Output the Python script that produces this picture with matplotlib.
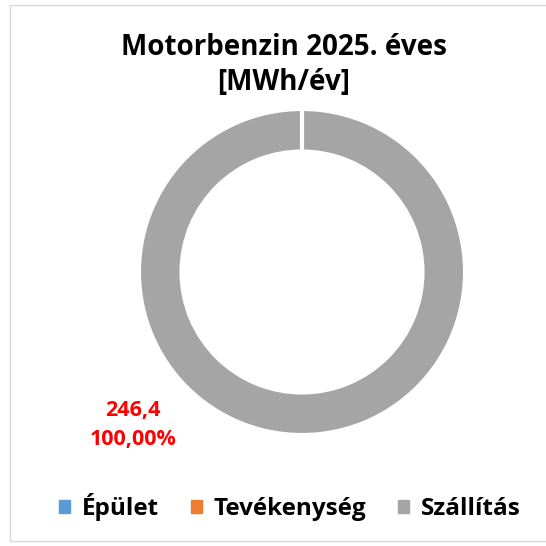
import matplotlib.pyplot as plt
from matplotlib.patches import Rectangle
import numpy as np

plt.rcParams['font.family'] = ['Open Sans', 'DejaVu Sans']

categories = ['Épület', 'Tevékenység', 'Szállítás']
values = [0, 0, 246.4]
colors = ['#5b9bd5', '#ed7d31', '#a5a5a5']
title = 'Motorbenzin 2025. éves\n[MWh/év]'

fig = plt.figure(figsize=(5.46, 5.46), dpi=100)
fig.patches.append(Rectangle((10 / 546, 5 / 546), 540 / 546, 536 / 546,
                             transform=fig.transFigure, fill=False,
                             edgecolor='#d9d9d9', linewidth=1))

# donut: centre (302, 272), radius 162 px
r = 162 / 546
ax = fig.add_axes([302 / 546 - r, 1 - 272 / 546 - r, 2 * r, 2 * r])
wedges, _ = ax.pie(values, colors=colors, startangle=90, counterclock=False, radius=1,
                   wedgeprops=dict(width=0.25, edgecolor='white', linewidth=1.5))
# slice border at the start angle (full ring has no radial edge in matplotlib)
a = np.deg2rad(wedges[-1].theta2)
ax.plot([0.75 * np.cos(a), np.cos(a)], [0.75 * np.sin(a), np.sin(a)],
        color='white', lw=3, solid_capstyle='butt')
ax.set_xlim(-1, 1)
ax.set_ylim(-1, 1)
ax.set_aspect('equal')
ax.axis('off')

fig.text(284 / 546, 1 - 65 / 546, title, ha='center', va='center', fontsize=20,
         fontweight='bold', linespacing=1.3)

total = sum(values)
lbl = f'{values[2]:.1f}'.replace('.', ',') + '\n' + f'{values[2] / total * 100:.2f}%'.replace('.', ',')
fig.text(133 / 546, 1 - 425 / 546, lbl, ha='center', va='center', fontsize=15.5,
         fontweight='bold', color='#ff0000', linespacing=1.45)

handles = [Rectangle((0, 0), 1, 1, color=c) for c in colors]
fig.legend(handles, categories, loc='center', bbox_to_anchor=(290 / 546, 1 - 507 / 546),
           ncol=3, frameon=False, prop=dict(size=17.5, weight='bold'),
           handlelength=0.45, handleheight=0.45, handletextpad=0.5, columnspacing=1.3)

fig.savefig('out.png', dpi=100)
